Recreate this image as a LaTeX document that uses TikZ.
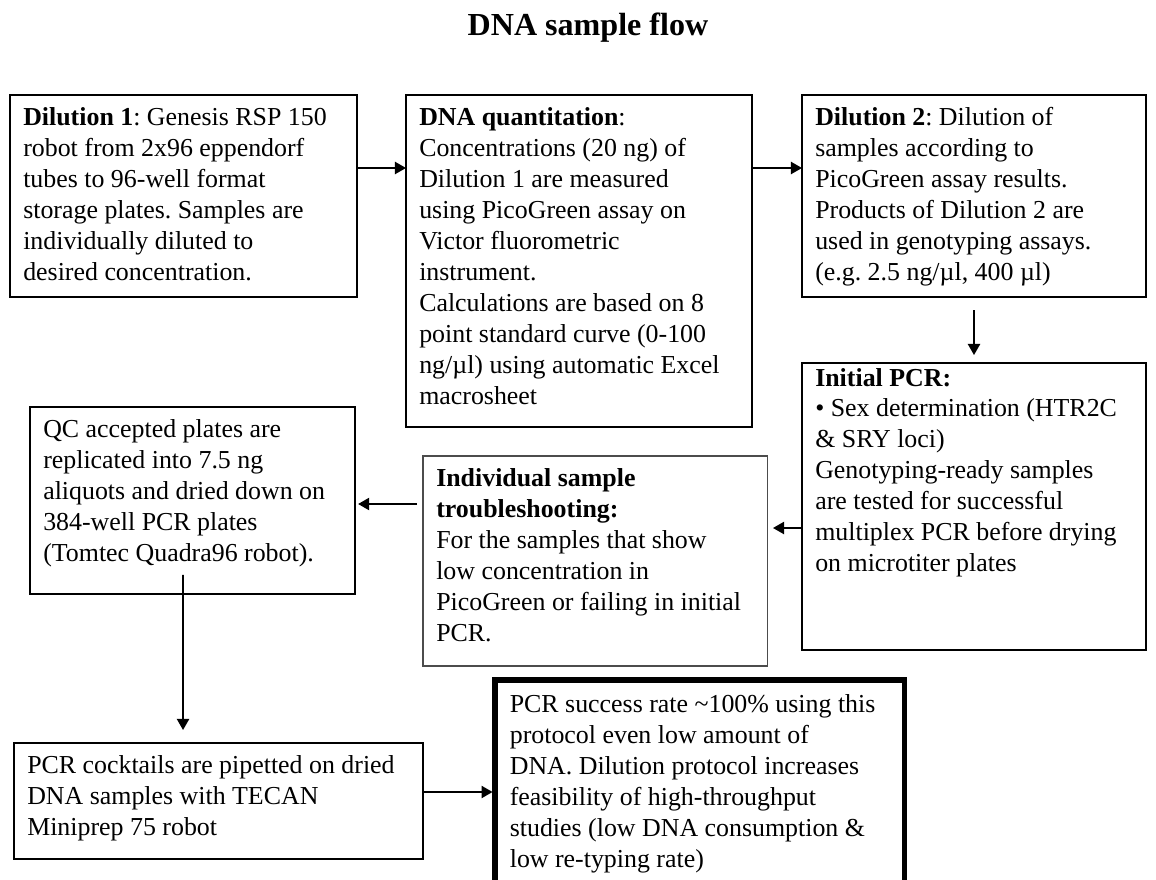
\documentclass[tikz,border=0pt]{standalone}
\usepackage{fontspec}
\setmainfont{Liberation Serif}
\usetikzlibrary{arrows.meta,calc}
\tikzset{
  stepbox/.style  = {draw, line width=0.8pt, rectangle, anchor=north west,
                     align=flush left, inner xsep=6pt, inner ysep=4pt,
                     outer sep=0pt, text height=10pt},
  thinbox/.style  = {stepbox, draw=black!70, line width=0.5pt},
  heavybox/.style = {stepbox, line width=2.3pt, inner xsep=6.7pt, text height=10.9pt},
  sig/.style      = {-{Triangle[length=5pt,width=5.5pt]}, line width=0.8pt},
}

\begin{document}
\begin{tikzpicture}[x=0.452pt,y=-0.452pt,font=\fontsize{11.7}{14}\selectfont\frenchspacing]
\useasboundingbox (0,0) rectangle (1156,880);
\clip (0,0) rectangle (1156,880);
\node[font=\fontsize{14.5}{17}\selectfont\bfseries, anchor=base] (title) at (588,35) {DNA sample flow};
% top row
\node[stepbox, text width=144.8pt, text depth=73.3pt] (d1) at (10,95)
  {\textbf{Dilution 1}: Genesis RSP 150\\ robot from 2x96 eppendorf\\ tubes to 96-well format\\
   storage plates. Samples are\\ individually diluted to\\ desired concentration.};
\node[stepbox, text width=144.4pt, text depth=132.1pt] (quant) at (406,95)
  {\textbf{DNA quantitation}:\\ Concentrations (20 ng) of\\ Dilution 1 are measured\\
   using PicoGreen assay on\\ Victor fluorometric\\ instrument.\\ Calculations are based on 8\\
   point standard curve (0-100\\ ng/µl) using automatic Excel\\ macrosheet};
\node[stepbox, text width=143.5pt, text depth=73.3pt] (d2) at (802,95)
  {\textbf{Dilution 2}: Dilution of\\ samples according to\\ PicoGreen assay results.\\
   Products of Dilution 2 are\\ used in genotyping assays.\\ (e.g. 2.5 ng/µl, 400 µl)};
% middle row
\node[stepbox, text width=143.5pt, text height=6.4pt, text depth=115.3pt] (pcr) at (802,363)
  {\textbf{Initial PCR:}\\ • Sex determination (HTR2C\\ \& SRY loci)\\ Genotyping-ready samples\\
   are tested for successful\\ multiplex PCR before drying\\ on microtiter plates};
\node[thinbox, text width=143.9pt, text depth=76.9pt] (trouble) at (423,456)
  {\textbf{Individual sample}\\ \textbf{troubleshooting:}\\ For the samples that show\\
   low concentration in\\ PicoGreen or failing in initial\\ PCR.};
\node[stepbox, text width=134.9pt, text depth=66.5pt] (qc) at (30,407)
  {QC accepted plates are\\ replicated into 7.5 ng\\ aliquots and dried down on\\
   384-well PCR plates\\ (Tomtec Quadra96 robot).};
% bottom row
\node[stepbox, text width=172.9pt, text depth=34.4pt] (cocktail) at (14,743)
  {PCR cocktails are pipetted on dried\\ DNA samples with TECAN\\ Miniprep 75 robot};
\node[heavybox, text width=171.5pt, text depth=73.3pt] (final) at (495,680)
  {PCR success rate \textasciitilde100\% using this\\ protocol even low amount of\\
   DNA. Dilution protocol increases\\ feasibility of high-throughput\\
   studies (low DNA consumption \&\\ low re-typing rate)};
% flow
\draw[sig] (d1.east |- 0,168) -- (quant.west |- 0,168);
\draw[sig] (quant.east |- 0,168) -- (d2.west |- 0,168);
\draw[sig, shorten <=5.9pt, shorten >=3.6pt] (d2.south) -- (pcr.north);
\draw[sig, shorten >=2.3pt] (pcr.west |- 0,528) -- (trouble.east |- 0,528);
\draw[sig, shorten <=2.7pt, shorten >=1.4pt] (trouble.west |- 0,504) -- (qc.east |- 0,504);
\draw[sig] ($(qc.south)+(-9.5,-19)$) -- ($(cocktail.north)+(-35.5,-13)$);
\draw[sig, shorten >=1.1pt] (cocktail.east |- 0,792) -- (final.west |- 0,792);
\end{tikzpicture}
\end{document}
